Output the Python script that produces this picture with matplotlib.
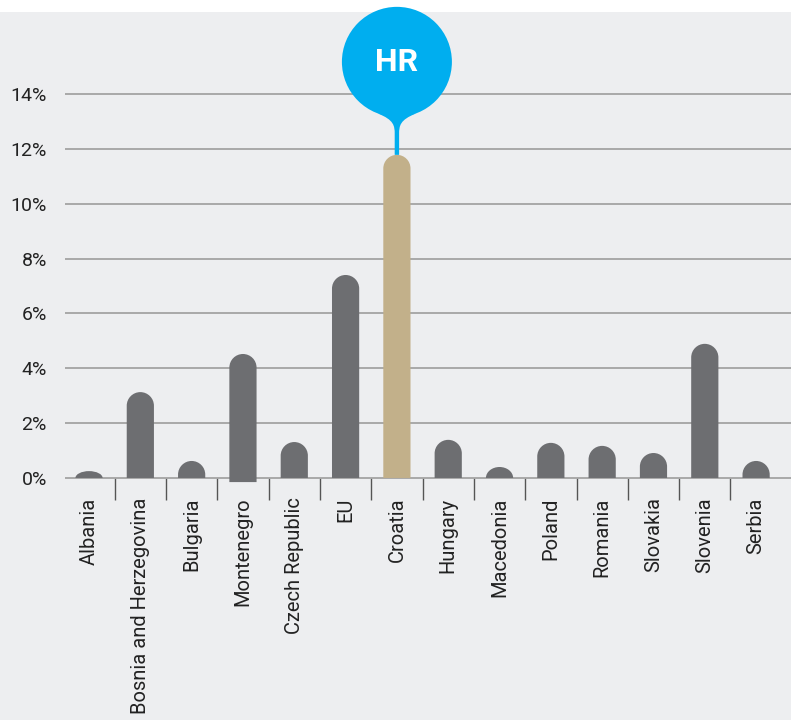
import matplotlib.pyplot as plt
import numpy as np
from matplotlib.path import Path
from matplotlib.patches import PathPatch, Rectangle
from matplotlib.transforms import Affine2D

countries = ['Albania', 'Bosnia and Herzegovina', 'Bulgaria', 'Montenegro',
             'Czech Republic', 'EU', 'Croatia', 'Hungary', 'Macedonia', 'Poland',
             'Romania', 'Slovakia', 'Slovenia', 'Serbia']
values = [0.25, 3.13, 0.62, 4.52, 1.31, 7.4, 11.78, 1.39, 0.4, 1.28, 1.17, 0.91, 4.89, 0.62]
bases = [0, 0, 0, -0.15, 0, 0, 0, 0, 0, 0, 0, 0, 0, 0]
highlight = 'Croatia'
highlight_label = 'HR'
yticks = [0, 2, 4, 6, 8, 10, 12, 14]

bg = '#edeef0'
bar_grey = '#6d6e71'
bar_tan = '#c2b08a'
cyan = '#00aeef'

plt.rcParams['font.family'] = ['Roboto', 'DejaVu Sans']

fig = plt.figure(figsize=(7.91, 7.2), dpi=100, facecolor=bg)
ax = fig.add_axes([65 / 791, 0.3171, 1 - 65 / 791, 0.6286])
ax.set_facecolor(bg)
# white strip at the very top
fig.patches.append(Rectangle((0, 1 - 12 / 720), 1, 12 / 720, transform=fig.transFigure,
                             facecolor='white', edgecolor='none', zorder=0))

x = np.arange(len(countries))
ax.set_xlim(-0.468, 13.68)
ax.set_ylim(-0.5, 16)

for s in ax.spines.values():
    s.set_visible(False)
ax.spines['bottom'].set_position(('data', 0))
ax.set_yticks(yticks)
ax.set_yticklabels([f'{t}%' for t in yticks], fontsize=14, color='#222222')
ax.tick_params(axis='y', length=0, pad=13)
ax.yaxis.grid(True, color='#a3a3a3', lw=1.3, zorder=0)
ax.set_axisbelow(True)

ax.set_xticks(x)
ax.set_xticklabels(countries, rotation=90, fontsize=14.5, color='#222222', va='top')
ax.tick_params(axis='x', length=0, pad=14)
ax.set_xticks(x[:-1] + 0.5, minor=True)
ax.tick_params(axis='x', which='minor', length=16, width=1, color='#555555', direction='out')

# bars with rounded tops
width = 0.53
colors = [bar_tan if c == highlight else bar_grey for c in countries]
bars = ax.bar(x, np.array(values) - np.array(bases), width=width, bottom=bases,
              color=colors, zorder=3)
px_per_y = ax.transData.transform((0, 1))[1] - ax.transData.transform((0, 0))[1]
px_per_x = ax.transData.transform((1, 0))[0] - ax.transData.transform((0, 0))[0]
r_px = width * px_per_x / 2
k = 0.5523
for b in bars:
    x0, y0 = b.get_x(), b.get_y()
    w, h = b.get_width(), b.get_height()
    x1, y1 = x0 + w, y0 + h
    xc = x0 + w / 2
    rx = w / 2
    ry = min(r_px / px_per_y, h)
    verts = [(x0, y0), (x0, y1 - ry),
             (x0, y1 - ry + k * ry), (xc - k * rx, y1), (xc, y1),
             (xc + k * rx, y1), (x1, y1 - ry + k * ry), (x1, y1 - ry),
             (x1, y0), (x0, y0)]
    codes = [Path.MOVETO, Path.LINETO,
             Path.CURVE4, Path.CURVE4, Path.CURVE4,
             Path.CURVE4, Path.CURVE4, Path.CURVE4,
             Path.LINETO, Path.CLOSEPOLY]
    ax.add_patch(PathPatch(Path(verts, codes), facecolor=b.get_facecolor(),
                           edgecolor='none', zorder=3))
    b.set_visible(False)

# pin marker above highlighted bar (pixel units relative to bar top)
i = countries.index(highlight)
bx, by = ax.transData.transform((x[i], values[i]))
R = 55
cy = 93
circle = Path.circle((0, cy), R)
nv = [(-19, cy - 51.7), (-3, cy - 58), (-2.2, cy - 64), (-2.2, cy - 72),
      (-2.2, 0), (2.2, 0), (2.2, cy - 72),
      (2.2, cy - 64), (3, cy - 58), (19, cy - 51.7), (-19, cy - 51.7)]
nc = [Path.MOVETO, Path.CURVE4, Path.CURVE4, Path.CURVE4,
      Path.LINETO, Path.LINETO, Path.LINETO,
      Path.CURVE4, Path.CURVE4, Path.CURVE4, Path.CLOSEPOLY]
neck = Path(nv, nc)
tr = Affine2D().translate(bx, by)
for p in (circle, neck):
    fig.patches.append(PathPatch(p, transform=tr, facecolor=cyan, edgecolor='none',
                                 zorder=5))
fig.text(bx / fig.bbox.width, (by + cy) / fig.bbox.height, highlight_label,
         color='white', fontsize=23, fontweight='bold', ha='center', va='center',
         zorder=6)

fig.savefig('out.png', dpi=100, facecolor=bg)
